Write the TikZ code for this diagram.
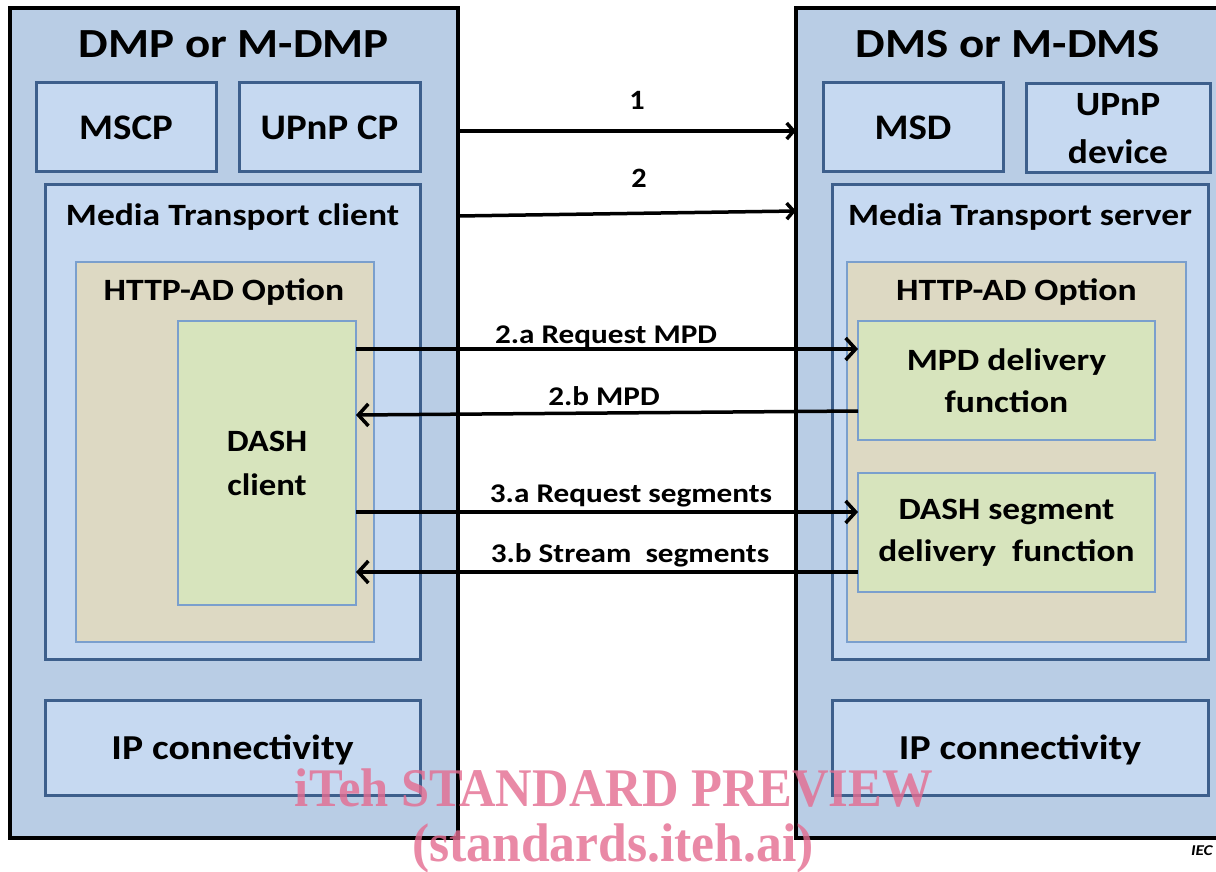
\documentclass[tikz,border=0pt]{standalone}
\usepackage{fontspec}
\usepackage{graphicx}
\setmainfont{Carlito}
\newfontfamily\wmfont{Liberation Serif}
\usetikzlibrary{arrows.meta}
\definecolor{outerfill}{HTML}{B9CDE5}
\definecolor{innerfill}{HTML}{C6D9F1}
\definecolor{innerdraw}{HTML}{3D5F8C}
\definecolor{httpfill}{HTML}{DDD9C3}
\definecolor{thindraw}{HTML}{7A9FCD}
\definecolor{greenfill}{HTML}{D7E4BD}
\definecolor{wmpink}{RGB}{228,108,144}
\newcommand\sx[2][1.14]{\scalebox{#1}[1]{#2}}
\newcommand\myfs[2]{\fontsize{#1}{#2}\selectfont}
\begin{document}
\begin{tikzpicture}[x=1pt,y=-1pt,
  every node/.style={inner sep=0pt, outer sep=0pt},
  txt/.style={font=\bfseries, text=black},
  outerbox/.style={draw=black, line width=3.5pt, fill=outerfill},
  bluebox/.style={draw=innerdraw, line width=3pt, fill=innerfill},
  oneline/.style={text depth=0pt},
  tanbox/.style={draw=thindraw, line width=1.2pt, fill=httpfill},
  greenbox/.style={draw=thindraw, line width=1.2pt, fill=greenfill},
  arrA/.style={line width=3.5pt, -{Straight Barb[length=7pt,width=16pt]}},
  arrB/.style={line width=3.5pt, -{Straight Barb[length=10pt,width=22pt]}},
  wm/.style={text=wmpink, text opacity=0.8, anchor=base},
]
\clip (0,0) rectangle (1216,872);
\fill[white] (0,0) rectangle (1216,872);

% ---- left device ----
\node[outerbox, minimum width=448pt, minimum height=830pt] (L) at (234,423) {};
\node[txt, anchor=base, font=\bfseries\myfs{41.4}{41.4}] (Ltitle) at (234,58) {\sx[1.135]{DMP or M-DMP}};
\node[bluebox, oneline, minimum width=180pt, minimum height=89pt, font=\bfseries\myfs{36}{36}] (mscp) at (126,127.5) {\sx[1.08]{MSCP}};
\node[bluebox, oneline, minimum width=181pt, minimum height=89pt, font=\bfseries\myfs{36}{36}] (upcp) at (329.5,127.5) {\sx[1.08]{UPnP CP}};
\node[bluebox, minimum width=375pt, minimum height=474pt] (mtc) at (232.5,422) {};
\node[txt, anchor=base, font=\bfseries\myfs{31}{31}] (mtct) at (232.5,225) {\sx[1.146]{Media Transport client}};
\node[tanbox, minimum width=298pt, minimum height=380pt] (httpL) at (225,452) {};
\node[txt, anchor=base, font=\bfseries\myfs{31}{31}] (httpLt) at (224,300) {\sx[1.15]{HTTP-AD Option}};
\node[greenbox, minimum width=178pt, minimum height=284pt, align=center, font=\bfseries\myfs{31}{44}] (dc) at (267,463) {\sx[1.12]{DASH}\\\sx[1.12]{client}};
\node[bluebox, oneline, minimum width=375pt, minimum height=95pt, font=\bfseries\myfs{35}{35}] (ipL) at (232.5,747.5) {\sx[1.135]{IP connectivity}};

% ---- right device ----
\node[outerbox, minimum width=434pt, minimum height=830pt] (R) at (1013,423) {};
\node[txt, anchor=base, font=\bfseries\myfs{41.4}{41.4}] (Rtitle) at (1008,58) {\sx[1.135]{DMS or M-DMS}};
\node[bluebox, oneline, minimum width=180pt, minimum height=89pt, font=\bfseries\myfs{36}{36}] (msd) at (913,127.5) {\sx[1.08]{MSD}};
\node[bluebox, minimum width=184pt, minimum height=89pt, align=center, font=\bfseries\myfs{34}{48}] (updev) at (1118,128.5) {\sx[1.1]{UPnP}\\\sx[1.1]{device}};
\node[bluebox, minimum width=376pt, minimum height=474pt] (mts) at (1020,422) {};
\node[txt, anchor=base, font=\bfseries\myfs{31}{31}] (mtst) at (1020,225) {\sx[1.146]{Media Transport server}};
\node[tanbox, minimum width=339pt, minimum height=380pt] (httpR) at (1016.5,452) {};
\node[txt, anchor=base, font=\bfseries\myfs{31}{31}] (httpRt) at (1016.5,300) {\sx[1.15]{HTTP-AD Option}};
\node[greenbox, minimum width=297pt, minimum height=119pt, align=center, font=\bfseries\myfs{31}{42}] (mpd) at (1006.5,380.5) {\sx[1.15]{MPD delivery}\\\sx[1.15]{function}};
\node[greenbox, minimum width=297pt, minimum height=119pt, align=center, font=\bfseries\myfs{31}{42}] (seg) at (1006.5,532.5) {\sx[1.14]{DASH segment}\\\sx[1.14]{delivery\ \ function}};
\node[bluebox, oneline, minimum width=376pt, minimum height=95pt, font=\bfseries\myfs{35}{35}] (ipR) at (1020,747.5) {\sx[1.135]{IP connectivity}};

% ---- connectors ----
\draw[arrA] (L.east |- 0,131) -- (R.west |- 0,131);
\draw[arrA] (L.east |- 0,216) -- (R.west |- 0,211);
\draw[arrB] (dc.east |- 0,349) -- (mpd.west |- 0,349);
\draw[arrB] (mpd.west |- 0,411) -- (dc.east |- 0,415);
\draw[arrB] (dc.east |- 0,512) -- (seg.west |- 0,512);
\draw[arrB] (seg.west |- 0,572) -- (dc.east |- 0,572);

% ---- connector labels ----
\node[txt, anchor=base, font=\bfseries\myfs{28}{28}] (l1) at (637,110) {\sx[1.08]{1}};
\node[txt, anchor=base, font=\bfseries\myfs{28}{28}] (l2) at (639,188) {\sx[1.08]{2}};
\node[txt, anchor=base, font=\bfseries\myfs{27}{27}] (l2a) at (606,343) {\sx[1.155]{2.a Request MPD}};
\node[txt, anchor=base, font=\bfseries\myfs{27}{27}] (l2b) at (604,405) {\sx[1.155]{2.b MPD}};
\node[txt, anchor=base, font=\bfseries\myfs{27}{27}] (l3a) at (631,502) {\sx[1.155]{3.a Request segments}};
\node[txt, anchor=base, font=\bfseries\myfs{27}{27}] (l3b) at (630,562) {\sx[1.155]{3.b Stream\ \ segments}};

% ---- watermark and credit ----
\node[wm, font=\wmfont\bfseries\myfs{54.4}{54.4}] (wm1) at (614,806.5) {\sx[0.93]{iTeh STANDARD PREVIEW}};
\node[wm, font=\wmfont\bfseries\myfs{54.4}{54.4}] (wm2) at (613,861) {\sx[0.95]{(standards.iteh.ai)}};
\node[anchor=base west, font=\bfseries\itshape\myfs{15}{15}] (iec) at (1191,855) {\sx[1.15]{IEC}};
\end{tikzpicture}
\end{document}
